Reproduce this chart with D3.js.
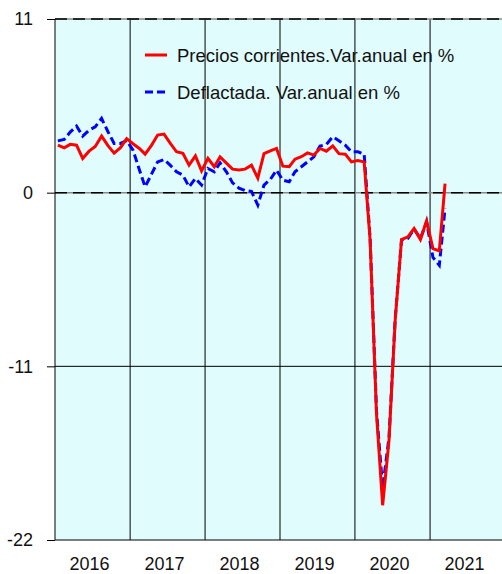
<!DOCTYPE html>
<html>
<head>
<meta charset="utf-8">
<script src="https://cdn.jsdelivr.net/npm/d3@7"></script>
<style>
	body { margin: 0; background: #fff; }
	svg { display: block; font-family: Arial, "Liberation Sans", sans-serif; }
</style>
</head>
<body>
<div id="chart"></div>
<script>
'use strict';

// Monthly values, Jan 2016 .. Mar 2021
var preciosCorrientes = [
	3.01, 2.84, 3.06, 3.01, 2.17, 2.63, 2.92, 3.58, 2.98, 2.50, 2.85, 3.42,
	3.10, 2.80, 2.44, 3.00, 3.65, 3.71, 3.14, 2.59, 2.49, 1.74, 2.33, 1.38,
	2.17, 1.64, 2.27, 1.87, 1.49, 1.43, 1.49, 1.74, 0.92, 2.47, 2.65, 2.80,
	1.68, 1.65, 2.12, 2.28, 2.52, 2.38, 2.80, 2.63, 2.97, 2.47, 2.44, 1.95,
	2.03, 1.95, -3.0, -14.0, -19.8, -15.7, -8.1, -2.97, -2.8, -2.27, -2.97, -1.79,
	-3.54, -3.69, 0.58
];

var deflactada = [
	3.28, 3.37, 3.84, 4.22, 3.58, 3.96, 4.17, 4.70, 3.86, 3.12, 3.12, 3.30,
	2.70, 1.45, 0.37, 1.17, 1.95, 2.10, 1.74, 1.32, 1.11, 0.37, 0.90, 0.48,
	1.53, 1.32, 1.89, 1.32, 0.62, 0.29, 0.13, 0.08, -0.79, 0.48, 0.84, 1.43,
	0.79, 0.69, 1.32, 1.64, 1.95, 2.27, 2.95, 3.06, 3.54, 3.29, 3.01, 2.59,
	2.59, 2.44, -2.9, -13.8, -18.7, -15.5, -8.0, -3.0, -2.9, -2.3, -2.9, -1.85,
	-4.1, -4.6, -1.0
];

var yearLabels = ["2016", "2017", "2018", "2019", "2020", "2021"];
var yTicks = [11, 0, -11, -22];

var seriesNames = ["Precios corrientes.Var.anual en %", "Deflactada. Var.anual en %"];
var seriesColors = ["#ff0000", "#0000ff"];

var WIDTH = 502;
var HEIGHT = 574;
var margin = { top: 19, left: 55, bottom: 34 };

var months = preciosCorrientes.map(function (d, i) {
	return new Date(2016, i, 15);
});

var x = d3.scaleTime()
	.domain([new Date(2016, 0, 1), new Date(2022, 0, 1)])
	.range([margin.left, margin.left + 450]);

var y = d3.scaleLinear()
	.domain([-22, 11])
	.range([HEIGHT - margin.bottom, margin.top]);

var svg = d3.select("#chart").append("svg")
	.attr("width", WIDTH)
	.attr("height", HEIGHT);

// plot background
svg.append("rect")
	.attr("x", x.range()[0])
	.attr("y", y(11))
	.attr("width", x.range()[1] - x.range()[0])
	.attr("height", y(-22) - y(11))
	.style("fill", "#e0fcfc");

// vertical year separators
var yearStarts = yearLabels.slice(1).map(function (d) {
	return new Date(+d, 0, 1);
});

svg.append("g").selectAll("line")
	.data(yearStarts)
	.enter().append("line")
	.attr("x1", function (d) { return x(d); })
	.attr("x2", function (d) { return x(d); })
	.attr("y1", y(11))
	.attr("y2", y(-22))
	.style("stroke", "#000")
	.style("stroke-width", 1);

// horizontal grid lines
var grid = svg.append("g");
yTicks.forEach(function (t) {
	var dashed = (t === 11 || t === 0);
	if (dashed) {
		grid.append("line")
			.attr("x1", x.range()[0]).attr("x2", WIDTH)
			.attr("y1", y(t)).attr("y2", y(t))
			.style("stroke", "#8a8a8a")
			.style("stroke-width", 1.5);
	}
	grid.append("line")
		.attr("x1", x.range()[0]).attr("x2", WIDTH)
		.attr("y1", y(t)).attr("y2", y(t))
		.style("stroke", "#000")
		.style("stroke-width", dashed ? 1.5 : 1)
		.style("stroke-dasharray", dashed ? "12,6" : null);
});

// left axis
var yAxis = d3.axisLeft(y)
	.tickValues(yTicks)
	.tickFormat(function (d) { return String(d); })
	.tickSize(8)
	.tickPadding(14);

var yAxisG = svg.append("g")
	.attr("transform", "translate(" + margin.left + ",0)")
	.call(yAxis);

yAxisG.select(".domain").style("stroke", "#000").attr("d", "M0," + y(11) + "V" + y(-22));
yAxisG.selectAll(".tick text")
	.style("font-size", "18px")
	.style("fill", "#111")
	.style("font-family", "Arial, 'Liberation Sans', sans-serif");

// year labels
svg.append("g").selectAll("text")
	.data(yearLabels)
	.enter().append("text")
	.attr("x", function (d) {
		return (x(new Date(+d, 0, 1)) + x(new Date(+d + 1, 0, 1))) / 2 - 3;
	})
	.attr("y", 570)
	.attr("text-anchor", "middle")
	.style("font-size", "18px")
	.style("fill", "#111")
	.text(function (d) { return d; });

// series lines
var line = d3.line()
	.x(function (d, i) { return x(months[i]); })
	.y(function (d) { return y(d); });

svg.append("path")
	.datum(deflactada)
	.attr("d", line)
	.style("fill", "none")
	.style("stroke", seriesColors[1])
	.style("stroke-width", 3)
	.style("stroke-dasharray", "8,4");

svg.append("path")
	.datum(preciosCorrientes)
	.attr("d", line)
	.style("fill", "none")
	.style("stroke", seriesColors[0])
	.style("stroke-width", 3);

// legend
var legend = svg.append("g")
	.attr("transform", "translate(145,55)");

var legendItems = legend.selectAll("g")
	.data(seriesNames)
	.enter().append("g")
	.attr("transform", function (d, i) { return "translate(0," + (i * 37) + ")"; });

legendItems.append("line")
	.attr("x1", 0)
	.attr("x2", 22)
	.style("stroke", function (d, i) { return seriesColors[i]; })
	.style("stroke-width", 3)
	.style("stroke-dasharray", function (d, i) { return i === 1 ? "8,4" : null; });

legendItems.append("text")
	.attr("x", 32)
	.attr("y", 6.5)
	.style("font-size", "18.5px")
	.style("fill", "#111")
	.text(function (d) { return d; });
</script>
</body>
</html>
